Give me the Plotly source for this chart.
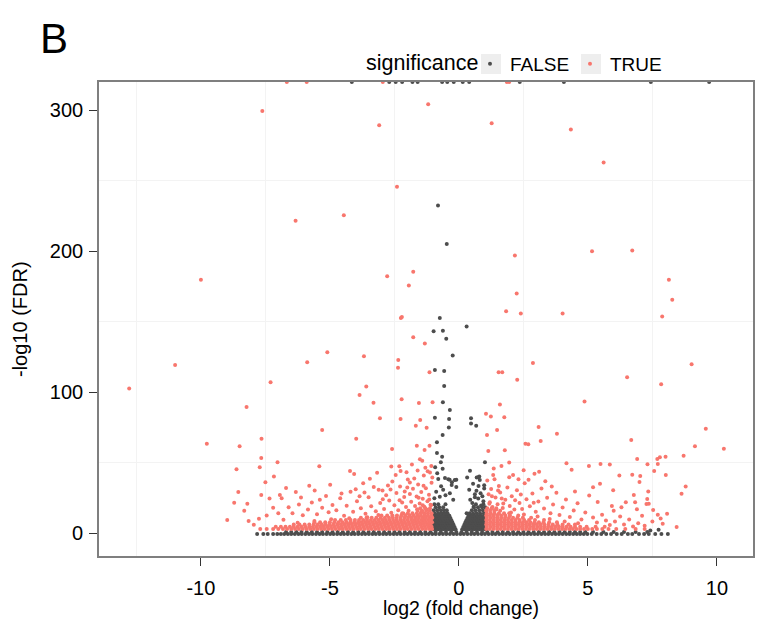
import plotly.graph_objects as go

# ---------------------------------------------------------------------------
# Volcano plot data: log2 fold change (x) vs -log10 FDR (y)
# ---------------------------------------------------------------------------

FDR_CAP = 320  # -log10(FDR) values that underflow are drawn at the cap

# Not significant genes (FALSE) -- isolated points
NS_POINTS = [
    (-0.81, 232.5), (-0.47, 205.2), (-0.74, 152.6), (0.30, 146.7), (-0.98, 143.2),
    (-0.62, 143.7), (-0.49, 138.0), (-0.24, 126.0), (-0.93, 115.8), (-0.57, 115.1),
    (-0.57, 104.5), (-0.62, 93.0), (-0.35, 87.4), (0.47, 81.5), (0.47, 77.9),
    (0.67, 76.2), (-0.93, 81.9), (-0.38, 81.0), (-0.39, 75.0), (-0.63, 69.7),
    (-0.85, 64.5), (-0.85, 56.9), (-0.65, 54.3), (-0.70, 50.3), (-0.92, 46.8),
    (-0.63, 45.8), (-0.84, 42.6), (-0.54, 39.2), (-0.36, 38.0), (-0.10, 38.0),
    (-0.80, 38.5), (-0.10, 32.9), (-0.27, 36.2), (1.01, 50.3), (0.43, 44.4),
    (0.32, 39.5), (0.75, 39.7), (0.81, 37.8), (0.98, 34.1), (0.98, 31.7),
    (0.62, 27.7), (0.44, 23.7), (0.75, 24.6), (0.86, 19.7), (0.30, 14.3),
    (0.79, 40.2), (0.69, 39.5), (0.55, 35.2), (0.40, 30.8), (0.76, 33.6),
    (0.84, 28.4), (0.62, 25.6), (0.52, 21.4), (-0.41, 38.3), (-0.28, 34.3),
    (-0.16, 37.8), (-0.61, 30.8), (-0.74, 26.0), (-0.35, 28.4), (-0.22, 23.7),
    (-0.88, 29.5), (-0.95, 24.8), (-0.69, 33.4), (-0.52, 26.9), (0.91, 26.2),
    (0.68, 30.1), (0.95, 22.7), (0.57, 18.9),
    (7.74, 2.5), (7.42, 2.0),
]

# Not significant genes at the FDR cap
NS_CAPPED_X = [-4.15, -2.7, -2.45, -2.2, -1.8, -1.6, -0.65, -0.45, -0.2, 0.15, 0.4,
               2.36, 4.07, 7.44, 9.7]

# Not significant genes -- dense rows (y level, x positions)
NS_ROWS = [
    (-0.5, [-7.82, -7.58, -7.41, -7.2, -7.04, -6.9, -6.77, -6.63, -6.5, -6.36, -6.22,
            -6.09, -5.95, -5.81, -5.68, -5.54, -5.4, -5.27, -5.13, -4.99, -4.86, -4.72,
            -4.58, -4.45, -4.31, -4.17, -4.04, -3.9, -3.76, -3.63, -3.49, -3.35, -3.22,
            -3.08, -2.94, -2.81, -2.67, -2.53, -2.4, -2.26, -2.12, -1.99, -1.85, -1.71,
            -1.58, -1.44, -1.3, -1.17, -1.03, -0.9, -0.76, -0.62, -0.49, -0.35, -0.21,
            -0.08, 0.06, 0.19, 0.33, 0.47, 0.6, 0.74, 0.88, 1.01, 1.15, 1.29, 1.42,
            1.56, 1.7, 1.83, 1.97, 2.11, 2.24, 2.38, 2.52, 2.65, 2.79, 2.93, 3.06,
            3.2, 3.34, 3.47, 3.61, 3.75, 3.88, 4.02, 4.16, 4.29, 4.43, 4.57, 4.7,
            4.84, 4.98, 5.15, 5.34, 5.52, 5.71, 5.9, 6.12, 6.31, 6.55, 6.72, 6.98,
            7.18, 7.36, 7.61, 7.85, 8.1]),
    (1.0, [-6.7, -6.5, -6.3, -6.1, -5.9, -5.7, -5.5, -5.3, -5.1, -4.9, -4.7, -4.5,
           -4.3, -4.1, -3.9, -3.7, -3.5, -3.3, -3.1, -2.9, -2.7, -2.5, -2.3, -2.1,
           -1.9, -1.7, -1.5, -1.3, -1.1, -0.9, -0.7, -0.5, -0.3, -0.1, 0.1, 0.3, 0.5,
           0.7, 0.9, 1.1, 1.3, 1.5, 1.7, 1.9, 2.1, 2.3, 2.5, 2.7, 2.9, 3.1, 3.3, 3.5,
           3.7, 3.9, 4.1, 4.3, 4.5, 4.7, 4.9, 5.2, 5.6, 6.0, 6.4, 6.85, 7.3]),
    (2.8, [-1.0, -0.9, -0.8, -0.7, -0.6, -0.5, -0.4, -0.3, -0.21, -0.13, 0.13, 0.22,
           0.31, 0.4, 0.5, 0.6, 0.7, 0.8, 0.9, 1.0]),
    (4.4, [-0.95, -0.85, -0.75, -0.65, -0.55, -0.45, -0.35, -0.25, -0.17, 0.17, 0.26,
           0.35, 0.45, 0.55, 0.65, 0.75, 0.85, 0.95, 1.04]),
    (6.0, [-1.01, -0.9, -0.8, -0.7, -0.6, -0.5, -0.4, -0.3, -0.21, 0.21, 0.3, 0.4,
           0.5, 0.6, 0.7, 0.8, 0.9, 1.0]),
    (7.6, [-0.96, -0.85, -0.75, -0.65, -0.55, -0.45, -0.35, -0.25, 0.25, 0.35, 0.45,
           0.55, 0.65, 0.75, 0.85, 0.95, 1.03]),
    (9.2, [-1.0, -0.9, -0.8, -0.7, -0.6, -0.5, -0.4, -0.29, 0.29, 0.4, 0.5, 0.6, 0.7,
           0.8, 0.9, 1.0]),
    (10.8, [-0.95, -0.85, -0.74, -0.63, -0.53, -0.43, -0.33, 0.33, 0.44, 0.55, 0.66,
            0.77, 0.88, 0.99]),
    (12.5, [-1.0, -0.88, -0.77, -0.66, -0.55, -0.45, -0.37, 0.37, 0.48, 0.6, 0.72,
            0.84, 0.96]),
    (14.3, [-0.93, -0.8, -0.68, -0.56, -0.44, 0.42, 0.55, 0.69, 0.82, 0.97]),
    (16.3, [-0.98, -0.84, -0.7, -0.58, -0.47, 0.5, 0.64, 0.79, 0.93]),
    (18.4, [-0.9, -0.76, -0.61, 0.58, 0.74, 0.9, 1.02]),
    (20.6, [-0.95, -0.8, -0.52, 0.66, 0.95]),
]

# Significant genes (TRUE) -- isolated points
SIG_POINTS = [
    # down-regulated
    (-12.78, 102.7), (-11.0, 119.4), (-10.0, 179.8), (-9.77, 63.5), (-8.5, 61.7),
    (-8.23, 89.5), (-7.65, 67.0), (-7.62, 299.5), (-7.3, 107.1), (-6.33, 221.7),
    (-5.88, 121.3), (-5.30, 73.2), (-5.10, 128.4), (-4.46, 225.5), (-3.98, 67.0),
    (-3.85, 98.0), (-3.68, 125.5), (-3.59, 104.1), (-3.31, 92.5), (-3.09, 289.4),
    (-3.06, 81.5), (-2.78, 182.3), (-2.59, 59.8), (-2.40, 245.8), (-2.36, 117.3),
    (-2.35, 122.9), (-2.26, 81.0), (-2.25, 152.6), (-2.21, 153.3), (-2.22, 95.0),
    (-1.94, 175.7), (-1.77, 185.4), (-1.77, 139.0), (-1.67, 76.2), (-1.63, 62.0),
    (-1.55, 92.3), (-1.50, 80.3), (-1.32, 134.5), (-1.25, 74.8), (-1.19, 304.2),
    (-1.14, 62.0), (-1.14, 114.2), (-1.02, 93.0),
    (-7.66, 53.4), (-8.62, 45.4), (-7.72, 46.8), (-7.03, 50.4), (-5.41, 47.5),
    (-7.17, 40.2), (-4.22, 44.2), (-4.06, 42.1), (-3.17, 43.0), (-2.62, 47.3),
    (-2.31, 47.5), (-2.03, 43.3), (-1.82, 48.7), (-1.33, 59.0), (-1.51, 52.5),
    (-1.42, 51.5), (-2.26, 44.2), (-1.21, 44.0), (-1.07, 47.7),
    (-7.5, 36.2), (-8.55, 29.3), (-8.71, 21.6), (-8.32, 15.9), (-8.98, 9.5),
    (-8.2, 20.9), (-7.66, 27.2), (-7.34, 24.6), (-6.94, 27.2), (-6.87, 24.9),
    (-6.32, 29.3), (-6.12, 25.3), (-5.59, 30.3), (-5.39, 23.7), (-4.99, 34.5),
    (-3.71, 35.5), (-3.66, 28.9), (-3.11, 30.8), (-2.96, 30.3), (-1.73, 38.8),
    (-2.0, 32.4), (-1.36, 40.9), (-1.03, 39.5),
    (-6.6, 18.5), (-6.45, 14.2), (-6.2, 20.5), (-6.05, 12.8), (-5.85, 16.9),
    (-5.7, 21.8), (-5.5, 13.5), (-5.3, 18.2), (-5.15, 26.4), (-5.05, 14.9),
    (-4.9, 20.1), (-4.75, 16.3), (-4.6, 24.8), (-4.45, 12.4), (-4.35, 19.6),
    (-4.2, 29.4), (-4.1, 15.3), (-3.95, 22.7), (-3.8, 17.8), (-3.62, 13.9),
    (-3.5, 25.6), (-3.4, 19.2), (-3.3, 32.8), (-3.22, 15.6), (-3.05, 21.4),
    (-2.9, 17.2), (-2.82, 26.9), (-2.7, 23.3), (-2.58, 36.7), (-2.5, 19.8),
    (-2.42, 28.6), (-2.35, 16.4), (-2.28, 33.1), (-2.2, 21.9), (-2.12, 25.7),
    (-2.05, 18.6), (-1.98, 38.2), (-1.9, 27.8), (-1.85, 22.4), (-1.78, 31.5),
    (-1.7, 19.3), (-1.64, 26.1), (-1.58, 34.6), (-1.52, 21.2), (-1.46, 29.3),
    (-1.4, 24.5), (-1.34, 18.9), (-1.28, 31.9), (-1.22, 22.8), (-1.16, 27.4),
    (-1.1, 20.3), (-1.06, 35.8), (-1.12, 43.1), (-1.3, 46.5), (-1.6, 44.6),
    (-1.9, 36.0), (-2.45, 41.3), (-2.75, 33.9), (-3.45, 38.6), (-4.0, 31.2),
    (-4.55, 28.3), (-5.8, 33.7), (-6.7, 32.1), (-7.2, 18.1), (-7.45, 12.6),
    (-7.0, 14.3), (-6.8, 9.6), (-8.15, 8.8), (-7.95, 6.1), (-7.75, 10.3),
    (-1.25, 16.8), (-1.45, 15.2), (-1.62, 17.1), (-1.95, 15.9), (-2.15, 14.1),
    (-2.62, 14.6), (-3.12, 12.9), (-3.55, 11.4), (-4.25, 10.6), (-4.95, 9.9),
    (-5.6, 8.7), (-6.25, 7.4), (-1.15, 23.9), (-1.56, 25.2), (-2.3, 23.4),
    (-2.95, 24.1), (-1.37, 33.7), (-2.1, 29.6), (-2.65, 31.0), (-3.85, 26.3),
    # up-regulated
    (1.27, 290.8), (4.34, 286.3), (5.61, 263.0), (2.17, 197.0), (5.16, 200.0),
    (6.72, 200.5), (8.14, 179.8), (8.27, 165.6), (2.24, 170.0), (1.83, 157.4),
    (2.40, 155.9), (4.02, 155.9), (7.88, 153.8), (2.87, 120.8), (9.02, 119.9),
    (1.54, 114.2), (1.68, 114.2), (2.26, 108.8), (6.52, 110.7), (7.84, 105.7),
    (4.87, 93.5), (1.59, 91.4), (1.05, 84.7), (1.24, 82.9), (1.76, 82.2),
    (3.09, 75.3), (9.57, 74.1), (1.48, 73.2), (3.80, 70.6), (1.09, 69.7),
    (6.68, 66.1), (2.58, 63.5), (2.69, 63.1), (3.17, 65.4), (9.15, 61.7),
    (10.27, 60.0), (1.14, 58.3), (1.78, 58.8), (1.65, 47.7), (2.51, 44.7),
    (2.93, 42.3), (3.11, 43.7), (4.17, 49.6), (4.37, 45.1), (5.04, 47.7),
    (5.49, 49.2), (5.85, 48.7), (6.91, 52.7), (7.31, 48.9), (7.69, 52.7),
    (7.79, 53.9), (7.71, 49.2), (8.01, 54.3), (8.71, 55.0), (8.02, 41.4),
    (7.57, 44.2), (6.22, 40.9), (6.72, 41.6), (7.03, 40.7), (7.0, 36.4),
    (5.47, 35.2), (5.98, 30.5), (8.79, 33.1), (8.63, 28.1), (6.47, 22.0),
    (6.83, 22.0), (7.34, 29.6), (7.30, 24.4), (7.27, 20.7), (7.36, 20.9),
    (6.78, 27.2), (5.38, 22.2), (5.93, 19.4), (6.0, 15.9), (6.9, 17.1),
    (7.53, 16.6), (7.71, 13.1), (7.82, 10.5), (7.9, 6.7), (8.07, 13.8),
    (8.44, 4.4), (1.33, 41.4), (1.38, 38.3), (1.55, 33.6), (1.95, 39.7),
    (2.31, 38.3),
    (1.1, 37.5), (1.15, 27.6), (1.2, 22.1), (1.25, 31.4), (1.3, 18.7),
    (1.42, 25.3), (1.5, 20.6), (1.6, 28.9), (1.7, 17.9), (1.8, 23.8),
    (1.88, 32.5), (1.97, 19.4), (2.05, 26.2), (2.15, 16.8), (2.25, 30.6),
    (2.35, 21.5), (2.45, 17.2), (2.55, 35.4), (2.62, 24.1), (2.75, 19.1),
    (2.85, 28.3), (2.98, 15.2), (3.08, 22.6), (3.2, 31.7), (3.3, 17.6),
    (3.42, 25.2), (3.55, 14.3), (3.65, 20.4), (3.78, 28.8), (3.9, 12.9),
    (4.02, 18.3), (4.15, 23.9), (4.3, 11.6), (4.45, 16.1), (4.6, 21.3),
    (4.75, 9.8), (4.9, 14.7), (5.05, 26.8), (5.2, 11.2), (5.35, 7.6),
    (5.55, 13.2), (5.7, 9.1), (5.85, 5.8), (6.05, 8.3), (6.25, 11.9),
    (6.4, 6.2), (6.6, 9.7), (6.75, 4.9), (6.95, 7.1), (7.1, 12.4),
    (7.2, 5.3), (7.5, 8.4), (1.35, 46.0), (1.95, 50.2), (2.1, 41.3),
    (3.35, 36.9), (3.6, 33.2), (2.7, 38.0), (4.5, 29.7), (5.2, 32.6),
    (6.3, 18.4),
    (1.18, 20.9), (1.45, 16.9), (1.72, 21.1), (2.02, 14.7), (2.52, 13.3),
    (3.05, 11.9), (3.52, 10.2), (4.1, 8.4), (4.62, 7.1), (1.28, 26.3),
    (1.66, 24.6), (2.18, 23.5), (2.9, 21.7), (1.52, 30.4), (2.4, 27.5),
]

# Significant genes at the FDR cap
SIG_CAPPED_X = [-6.67, -5.9, -2.95, 1.86, 1.95]

# Significant genes -- dense rows (y level, x positions)
SIG_ROWS = [
    (3.0, [-7.7, -7.45, -7.2, -7.0, -6.82, -6.66, -6.5, -6.35, -6.2, -6.05, -5.9,
           -5.76, -5.62, -5.48, -5.34, -5.2, -5.06, -4.92, -4.78, -4.64, -4.5, -4.36,
           -4.22, -4.08, -3.94, -3.8, -3.66, -3.52, -3.38, -3.24, -3.1, -2.96, -2.82,
           -2.68, -2.54, -2.4, -2.26, -2.12, -1.98, -1.84, -1.7, -1.56, -1.42, -1.28,
           -1.15, -1.04,
           1.06, 1.2, 1.34, 1.48, 1.62, 1.76, 1.9, 2.04, 2.18, 2.32, 2.46, 2.6, 2.74,
           2.88, 3.02, 3.16, 3.3, 3.44, 3.58, 3.72, 3.86, 4.0, 4.14, 4.28, 4.42, 4.56,
           4.7, 4.85, 5.0, 5.17, 5.35, 5.56, 5.8, 6.1, 6.45, 6.85, 7.2]),
    (4.6, [-7.1, -6.9, -6.72, -6.55, -6.4, -6.25, -6.1, -5.95, -5.8, -5.66, -5.52,
           -5.38, -5.24, -5.1, -4.96, -4.82, -4.68, -4.54, -4.4, -4.26, -4.12, -3.98,
           -3.84, -3.7, -3.56, -3.42, -3.28, -3.14, -3.0, -2.86, -2.72, -2.58, -2.44,
           -2.3, -2.16, -2.02, -1.88, -1.74, -1.6, -1.46, -1.32, -1.19, -1.06,
           1.08, 1.22, 1.36, 1.5, 1.64, 1.78, 1.92, 2.06, 2.2, 2.34, 2.48, 2.62, 2.76,
           2.9, 3.04, 3.18, 3.32, 3.46, 3.6, 3.74, 3.88, 4.02, 4.17, 4.33, 4.5, 4.7,
           4.95, 5.3, 5.65]),
    (6.2, [-6.4, -6.18, -5.98, -5.8, -5.63, -5.47, -5.31, -5.16, -5.01, -4.86, -4.71,
           -4.57, -4.43, -4.29, -4.15, -4.01, -3.87, -3.73, -3.59, -3.45, -3.31, -3.17,
           -3.03, -2.89, -2.75, -2.61, -2.47, -2.33, -2.19, -2.05, -1.91, -1.77, -1.63,
           -1.49, -1.36, -1.23, -1.1,
           1.06, 1.2, 1.34, 1.48, 1.62, 1.76, 1.9, 2.04, 2.18, 2.32, 2.46, 2.6, 2.74,
           2.88, 3.02, 3.16, 3.31, 3.47, 3.64, 3.82, 4.02, 4.25, 4.5]),
    (7.8, [-5.6, -5.38, -5.18, -5.0, -4.83, -4.67, -4.51, -4.36, -4.21, -4.06, -3.91,
           -3.77, -3.63, -3.49, -3.35, -3.21, -3.07, -2.93, -2.79, -2.65, -2.51, -2.37,
           -2.23, -2.09, -1.95, -1.81, -1.67, -1.54, -1.41, -1.28, -1.15, -1.04,
           1.08, 1.22, 1.36, 1.5, 1.64, 1.78, 1.92, 2.06, 2.2, 2.34, 2.48, 2.62, 2.77,
           2.93, 3.1, 3.28, 3.5, 3.8]),
    (9.4, [-4.8, -4.58, -4.38, -4.2, -4.03, -3.87, -3.71, -3.56, -3.41, -3.26, -3.11,
           -2.97, -2.83, -2.69, -2.55, -2.41, -2.27, -2.13, -1.99, -1.85, -1.72, -1.59,
           -1.46, -1.33, -1.2, -1.08,
           1.06, 1.2, 1.34, 1.48, 1.62, 1.76, 1.9, 2.05, 2.2, 2.36, 2.53, 2.72, 2.95,
           3.3]),
    (11.0, [-3.8, -3.58, -3.38, -3.2, -3.03, -2.87, -2.71, -2.56, -2.41, -2.26, -2.11,
            -1.97, -1.83, -1.69, -1.55, -1.41, -1.28, -1.15, -1.03,
            1.08, 1.22, 1.36, 1.5, 1.64, 1.79, 1.94, 2.1, 2.27, 2.48, 2.8]),
    (12.6, [-3.0, -2.78, -2.58, -2.4, -2.23, -2.07, -1.91, -1.76, -1.61, -1.47, -1.33,
            -1.2, -1.07,
            1.06, 1.2, 1.34, 1.49, 1.64, 1.8, 1.98, 2.3]),
    (14.2, [-2.2, -1.98, -1.8, -1.63, -1.48, -1.34, -1.2, -1.06,
            1.08, 1.23, 1.38, 1.55, 1.75, 1.95]),
    (16.0, [-1.6, -1.42, -1.27, -1.13, 1.06, 1.21, 1.37, 1.6]),
    (17.8, [-1.5, -1.3, -1.12, 1.1, 1.27, 1.45]),
    (19.8, [-1.4, -1.08]),
]

TICK_X = [-10, -5, 0, 5, 10]
TICK_Y = [0, 100, 200, 300]

COLOR_NS = "#4d4d4d"
COLOR_SIG = "#f8766d"
FONT = "Liberation Sans, Arial, Helvetica, sans-serif"


def collect(points, capped_x, rows):
    xs = [p[0] for p in points] + list(capped_x)
    ys = [p[1] for p in points] + [FDR_CAP] * len(capped_x)
    for level, row_x in rows:
        xs += row_x
        ys += [level] * len(row_x)
    return xs, ys


ns_x, ns_y = collect(NS_POINTS, NS_CAPPED_X, NS_ROWS)
sig_x, sig_y = collect(SIG_POINTS, SIG_CAPPED_X, SIG_ROWS)

fig = go.Figure()
fig.add_trace(go.Scatter(
    x=ns_x, y=ns_y, mode="markers", name="FALSE",
    marker=dict(color=COLOR_NS, size=4, line=dict(width=0)),
))
fig.add_trace(go.Scatter(
    x=sig_x, y=sig_y, mode="markers", name="TRUE",
    marker=dict(color=COLOR_SIG, size=4, line=dict(width=0)),
))

W, H = 766, 630
L, R, T, B = 99, 13, 82, 74
PW, PH = W - L - R, H - T - B


def px_to_paper_x(px):
    return (px - L) / PW


def px_to_paper_y(py):
    return (H - B - py) / PH


axis_common = dict(
    showline=True, mirror=True, linecolor="#7f7f7f", linewidth=1.6,
    ticks="outside", ticklen=8, tickwidth=1.4, tickcolor="#333333",
    showgrid=False, zeroline=False,
    tickfont=dict(family=FONT, size=20, color="#000000"),
)

fig.update_layout(
    width=W, height=H,
    margin=dict(l=L, r=R, t=T, b=B, autoexpand=False),
    paper_bgcolor="white", plot_bgcolor="white",
    font=dict(family=FONT, color="#000000"),
    showlegend=True,
    legend=dict(
        orientation="h", xref="container", yref="container",
        x=470 / W, y=1 - 45 / H, xanchor="left", yanchor="top",
        font=dict(family=FONT, size=19),
        entrywidth=55, entrywidthmode="pixels",
        itemsizing="trace", bgcolor="rgba(0,0,0,0)",
    ),
    xaxis=dict(
        range=[-13.95, 11.4], tickvals=TICK_X, ticktext=[str(v) for v in TICK_X],
        ticklabelstandoff=5,
        minor=dict(tickvals=[-12.5, -7.5, -2.5, 2.5, 7.5], showgrid=True,
                   gridcolor="#f3f3f3", gridwidth=1, ticks=""),
        **axis_common,
    ),
    yaxis=dict(
        range=[-16.1, 320], tickvals=TICK_Y, ticktext=[str(v) for v in TICK_Y],
        ticklabelstandoff=2,
        minor=dict(tickvals=[50, 150, 250], showgrid=True,
                   gridcolor="#f3f3f3", gridwidth=1, ticks=""),
        **axis_common,
    ),
)

# light grey key backgrounds behind the legend symbols
for cx in (491, 591):
    fig.add_shape(
        type="rect", xref="paper", yref="paper",
        x0=px_to_paper_x(cx - 10), x1=px_to_paper_x(cx + 10),
        y0=px_to_paper_y(74), y1=px_to_paper_y(54),
        fillcolor="#eeeeee", line=dict(width=0), layer="above",
    )

# legend heading
fig.add_annotation(
    text="significance", xref="paper", yref="paper",
    x=px_to_paper_x(364), y=px_to_paper_y(63), xanchor="left", yanchor="middle",
    showarrow=False, font=dict(family=FONT, size=21.5, color="#000000"),
)
fig.add_annotation(
    text="B", xref="paper", yref="paper",
    x=px_to_paper_x(38), y=px_to_paper_y(38.5), xanchor="left", yanchor="middle",
    showarrow=False, font=dict(family=FONT, size=42, color="#000000"),
)
fig.add_annotation(
    text="-log10 (FDR)", xref="paper", yref="paper",
    x=px_to_paper_x(20), y=0.5, xanchor="center", yanchor="middle",
    textangle=-90, showarrow=False, font=dict(family=FONT, size=20, color="#000000"),
)
fig.add_annotation(
    text="log2 (fold change)", xref="paper", yref="paper",
    x=px_to_paper_x(461), y=px_to_paper_y(608), xanchor="center", yanchor="middle",
    showarrow=False, font=dict(family=FONT, size=19.5, color="#000000"),
)

fig.write_html("out.html")
